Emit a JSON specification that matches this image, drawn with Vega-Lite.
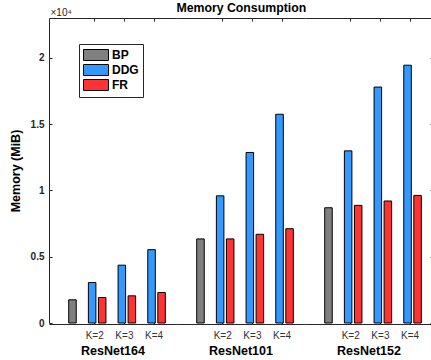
{
  "$schema": "https://vega.github.io/schema/vega-lite/v6.json",
  "padding": {"left": 9, "top": 1, "right": 0, "bottom": 0},
  "background": "white",
  "title": {"text": "Memory Consumption", "font": "Liberation Sans", "fontSize": 12.3, "fontWeight": "bold", "color": "#000", "anchor": "middle", "dx": 20, "offset": -7},
  "data": {"values": [
    {"model": "ResNet164", "K": "BP", "method": "BP", "value": 1750},
    {"model": "ResNet164", "K": "K=2", "method": "DDG", "value": 3050},
    {"model": "ResNet164", "K": "K=2", "method": "FR", "value": 1925},
    {"model": "ResNet164", "K": "K=3", "method": "DDG", "value": 4360},
    {"model": "ResNet164", "K": "K=3", "method": "FR", "value": 2050},
    {"model": "ResNet164", "K": "K=4", "method": "DDG", "value": 5530},
    {"model": "ResNet164", "K": "K=4", "method": "FR", "value": 2300},
    {"model": "ResNet101", "K": "BP", "method": "BP", "value": 6340},
    {"model": "ResNet101", "K": "K=2", "method": "DDG", "value": 9590},
    {"model": "ResNet101", "K": "K=2", "method": "FR", "value": 6340},
    {"model": "ResNet101", "K": "K=3", "method": "DDG", "value": 12860},
    {"model": "ResNet101", "K": "K=3", "method": "FR", "value": 6690},
    {"model": "ResNet101", "K": "K=4", "method": "DDG", "value": 15740},
    {"model": "ResNet101", "K": "K=4", "method": "FR", "value": 7110},
    {"model": "ResNet152", "K": "BP", "method": "BP", "value": 8690},
    {"model": "ResNet152", "K": "K=2", "method": "DDG", "value": 12980},
    {"model": "ResNet152", "K": "K=2", "method": "FR", "value": 8870},
    {"model": "ResNet152", "K": "K=3", "method": "DDG", "value": 17790},
    {"model": "ResNet152", "K": "K=3", "method": "FR", "value": 9200},
    {"model": "ResNet152", "K": "K=4", "method": "DDG", "value": 19440},
    {"model": "ResNet152", "K": "K=4", "method": "FR", "value": 9620}
  ]},
  "spacing": 0,
  "facet": {"column": {"field": "model", "type": "nominal", "sort": ["ResNet164", "ResNet101", "ResNet152"], "title": null,
    "header": {"labelOrient": "bottom", "labelFont": "Liberation Sans", "labelFontSize": 12.5, "labelFontWeight": "bold", "labelColor": "#000", "labelPadding": 5}}},
  "spec": {
    "width": 128,
    "height": 305,
    "layer": [
      {
        "transform": [{"filter": "datum.method != 'BP'"}],
        "mark": {"type": "bar", "stroke": "#000", "strokeWidth": 1, "width": {"band": 0.75}},
        "encoding": {
          "x": {"field": "K", "type": "nominal", "scale": {"domain": ["BP", "K=2", "K=3", "K=4"], "paddingInner": 0, "paddingOuter": 0.155, "align": 0.125},
            "axis": {"orient": "bottom", "title": null, "values": ["K=2", "K=3", "K=4"], "labelAngle": 0, "tickSize": -3, "domainColor": "#262626", "tickColor": "#262626", "labelFont": "Liberation Sans", "labelFontSize": 10, "labelColor": "#333", "labelPadding": 9, "grid": false}},
          "xOffset": {"field": "method", "type": "nominal", "scale": {"domain": ["DDG", "FR"], "paddingInner": 0, "paddingOuter": 0.48}},
          "y": {"field": "value", "type": "quantitative", "scale": {"domain": [0, 23000], "nice": false},
            "axis": {"orient": "left", "title": "Memory (MiB)", "values": [0, 5000, 10000, 15000, 20000], "labelExpr": "format(datum.value/10000, '~g')", "grid": false, "tickSize": -3, "domainColor": "#262626", "tickColor": "#262626", "labelFont": "Liberation Sans", "labelFontSize": 10, "labelFontWeight": "bold", "labelColor": "#262626", "labelPadding": 8, "titleFont": "Liberation Sans", "titleFontSize": 12.5, "titleFontWeight": "bold", "titleColor": "#000", "titlePadding": 8}},
          "color": {"field": "method", "type": "nominal", "scale": {"domain": ["BP", "DDG", "FR"], "range": ["#808080", "#3399ff", "#ff3333"]},
            "legend": {"orient": "none", "legendX": 30, "legendY": 26, "title": null, "symbolType": "M-2,-0.88H2V0.88H-2Z", "symbolSize": 156, "symbolOffset": 6, "symbolStrokeColor": "#000", "symbolStrokeWidth": 1, "symbolOpacity": 1, "labelFont": "Liberation Sans", "labelFontSize": 12, "labelFontWeight": "bold", "labelColor": "#000", "labelOffset": 9, "rowPadding": -2, "strokeColor": "#262626", "fillColor": "#fff", "padding": 4}}
        }
      },
      {
        "transform": [{"filter": "datum.method == 'BP'"}],
        "mark": {"type": "bar", "stroke": "#000", "strokeWidth": 1, "width": {"band": 0.75}},
        "encoding": {
          "x": {"field": "K", "type": "nominal", "scale": {"domain": ["BP", "K=2", "K=3", "K=4"], "paddingInner": 0, "paddingOuter": 0.155, "align": 0.125},
            "axis": {"orient": "top", "title": null, "labels": false, "values": ["K=2", "K=3", "K=4"], "tickSize": -3, "domainColor": "#262626", "tickColor": "#262626", "grid": false}},
          "xOffset": {"field": "method", "type": "nominal", "scale": {"domain": ["-", "BP"], "paddingInner": 0, "paddingOuter": 0.48}},
          "y": {"field": "value", "type": "quantitative", "scale": {"domain": [0, 23000], "nice": false},
            "axis": {"orient": "right", "title": "×10⁴", "titleAngle": 0, "titleX": -383, "titleY": -1, "titleAlign": "left", "titleBaseline": "bottom", "titleFont": "Liberation Sans", "titleFontSize": 10, "titleFontWeight": "normal", "titleColor": "#262626", "labels": false, "domain": false, "values": [0, 5000, 10000, 15000, 20000], "tickSize": -3, "tickColor": "#262626", "grid": false}},
          "color": {"field": "method", "type": "nominal"}
        }
      }
    ],
    "resolve": {"scale": {"xOffset": "independent"}, "axis": {"x": "independent", "y": "independent"}}
  },
  "config": {"view": {"stroke": null}}
}
